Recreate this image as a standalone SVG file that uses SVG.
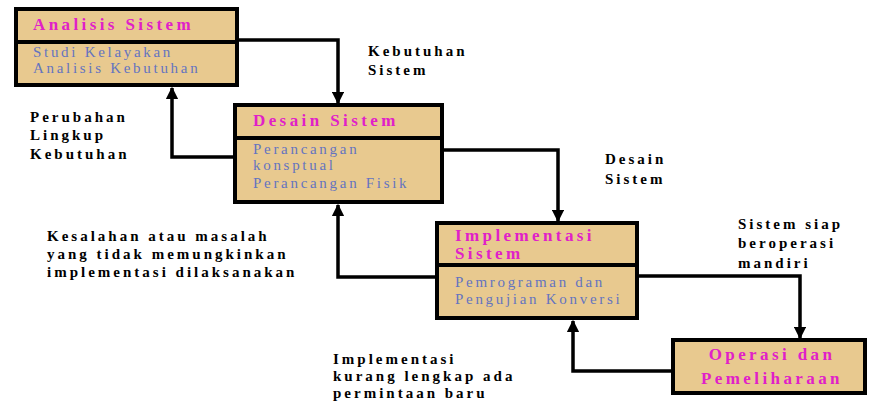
<svg xmlns="http://www.w3.org/2000/svg" width="870" height="401" viewBox="0 0 870 401">
<defs>
<marker id="ah" viewBox="0 0 10 10" refX="9" refY="5" markerWidth="3.6" markerHeight="3.6" orient="auto-start-reverse" markerUnits="strokeWidth">
<path d="M0,0 L10,5 L0,10 z" fill="#000"/>
</marker>
</defs>
<style>
.box{fill:#e8c98f;stroke:#000;stroke-width:4}
.div{stroke:#000;stroke-width:4}
text{font-family:'Liberation Serif','DejaVu Serif','Times New Roman',serif}
.title{font-weight:bold;font-size:17px;fill:#e020c8;letter-spacing:3.4px}
.sub{font-size:15px;fill:#6474c0;letter-spacing:2.7px}
.lbl{font-weight:bold;font-size:15px;fill:#000;letter-spacing:3px}
.con{fill:none;stroke:#000;stroke-width:3.5;marker-end:url(#ah)}
</style>
<rect width="870" height="401" fill="#fff"/>
<g id="connectors">
<path class="con" d="M237,40 H338 V103"/>
<path class="con" d="M235,157 H172 V88"/>
<path class="con" d="M442,150 H558 V221"/>
<path class="con" d="M437,277 H338 V205"/>
<path class="con" d="M637,276 H800 V338"/>
<path class="con" d="M673,371 H573 V321"/>
</g>
<g id="analisis">
<rect class="box" x="16" y="9" width="221" height="76"/>
<line class="div" x1="16" y1="42" x2="237" y2="42"/>
<text class="title" x="33" y="30">Analisis Sistem</text>
<text class="sub" x="33" y="57">Studi Kelayakan</text>
<text class="sub" x="33" y="73">Analisis Kebutuhan</text>
</g>
<g id="desain">
<rect class="box" x="235" y="105" width="207" height="97"/>
<line class="div" x1="235" y1="138" x2="442" y2="138"/>
<text class="title" x="253" y="126">Desain Sistem</text>
<text class="sub" x="253" y="154">Perancangan</text>
<text class="sub" x="253" y="170">konsptual</text>
<text class="sub" x="253" y="188">Perancangan Fisik</text>
</g>
<g id="implementasi">
<rect class="box" x="437" y="223" width="200" height="95"/>
<line class="div" x1="437" y1="265" x2="637" y2="265"/>
<text class="title" x="455" y="241">Implementasi</text>
<text class="title" x="455" y="259">Sistem</text>
<text class="sub" x="455" y="287">Pemrograman dan</text>
<text class="sub" x="455" y="304">Pengujian Konversi</text>
</g>
<g id="operasi">
<rect class="box" x="673" y="340" width="192" height="53"/>
<text class="title" x="772" y="360" text-anchor="middle">Operasi dan</text>
<text class="title" x="772" y="384" text-anchor="middle">Pemeliharaan</text>
</g>
<g id="labels">
<text class="lbl" x="368" y="56">Kebutuhan</text>
<text class="lbl" x="368" y="75">Sistem</text>
<text class="lbl" x="30" y="122">Perubahan</text>
<text class="lbl" x="30" y="140">Lingkup</text>
<text class="lbl" x="30" y="159">Kebutuhan</text>
<text class="lbl" x="605" y="164">Desain</text>
<text class="lbl" x="605" y="184">Sistem</text>
<text class="lbl" x="47" y="241">Kesalahan atau masalah</text>
<text class="lbl" x="47" y="259">yang tidak memungkinkan</text>
<text class="lbl" x="47" y="277">implementasi dilaksanakan</text>
<text class="lbl" x="738" y="229">Sistem siap</text>
<text class="lbl" x="738" y="248">beroperasi</text>
<text class="lbl" x="738" y="268">mandiri</text>
<text class="lbl" x="333" y="364">Implementasi</text>
<text class="lbl" x="333" y="381">kurang lengkap ada</text>
<text class="lbl" x="333" y="398">permintaan baru</text>
</g>
</svg>
